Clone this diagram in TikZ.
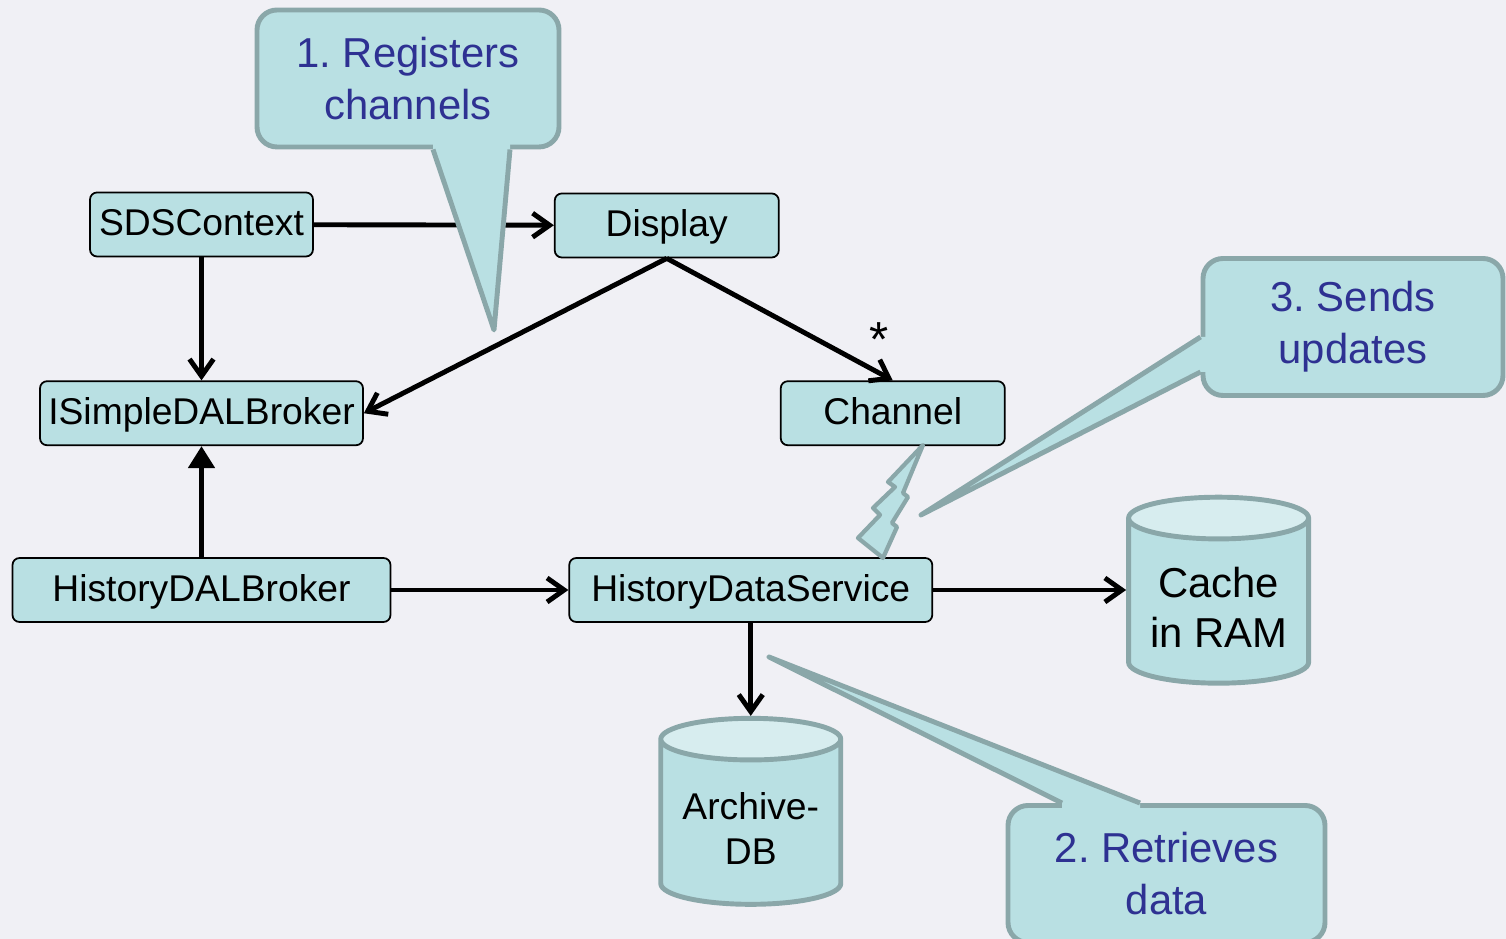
\documentclass[tikz,border=0pt]{standalone}
\usepackage{fontspec}
\setmainfont{Liberation Sans}
\usepackage{tikz}
\usetikzlibrary{shapes.geometric, arrows.meta, positioning, calc}
\definecolor{diag-bg}{HTML}{F0F0F5}
\definecolor{diag-box}{HTML}{B9E0E3}
\definecolor{diag-top}{HTML}{D7EDEF}
\definecolor{diag-edge}{HTML}{8AA7A9}
\definecolor{diag-blue}{HTML}{2E3192}
\frenchspacing

\begin{document}
\begin{tikzpicture}[
    box/.style={rectangle, draw=black, line width=0.5pt, fill=diag-box, minimum height=0.64cm, inner xsep=0.08cm, text height=0.72em, text depth=0.08em, rounded corners=2pt, font=\fontsize{10.6}{12.7}\selectfont},
    db/.style={cylinder, shape border rotate=90, aspect=0.26, draw=diag-edge, line width=1.4pt, cylinder uses custom fill, cylinder body fill=diag-box, cylinder end fill=diag-top, minimum width=1.80cm, minimum height=1.86cm, align=center},
    callout/.style={rectangle, draw=diag-edge, line width=1.4pt, fill=diag-box, rounded corners=0.2cm, align=center, text=diag-blue, font=\fontsize{11.9}{14.8}\selectfont},
    pointer/.style={draw=diag-edge, line width=1.4pt, line join=round},
    arrow/.style={-{Straight Barb[length=1.7mm, width=2.4mm]}, line width=1.4pt},
    inherit/.style={-{Triangle[length=2.2mm, width=2.6mm]}, line width=1.4pt}
]
    \useasboundingbox (0,0) rectangle (15.06,9.39);
    \clip (0,0) rectangle (15.06,9.39);
    \fill[diag-bg] (0,0) rectangle (15.06,9.39);

    \node[box, minimum width=2.23cm] (sds) at (2.015,7.145) {SDSContext};
    \node[box, minimum width=2.24cm, right=2.40cm of sds, yshift=-0.01cm] (disp) {Display};
    \node[box, minimum width=3.23cm, below=1.23cm of sds] (isb) {ISimpleDALBroker};
    \node[box, minimum width=2.24cm, right=4.16cm of isb] (chan) {Channel};
    \node[box, minimum width=3.78cm, below=1.11cm of isb] (hdb) {HistoryDALBroker};
    \node[box, minimum width=3.63cm, right=1.77cm of hdb] (hds) {HistoryDataService};
    \node[db, right=1.93cm of hds, yshift=-0.17cm, font=\fontsize{11.9}{14.2}\selectfont] (cache) {Cache\\in RAM};
    \node[db, below=0.93cm of hds, font=\fontsize{10.6}{12.8}\selectfont] (arch) {Archive-\\DB};

    \draw[arrow] (sds) -- (disp);
    \draw[arrow] (sds) -- (isb);
    \draw[arrow] (disp.south) -- (isb.east);
    \draw[arrow] (disp.south) -- (chan.north) node[pos=0.94, above=0.02cm, font=\fontsize{14}{16}\selectfont] (many) {*};
    \draw[inherit] (hdb) -- (isb);
    \draw[arrow] (hdb) -- (hds);
    \draw[arrow] (hds) -- (cache.west |- hds);
    \draw[arrow] (hds) -- (arch);

    % lightning between channel and service
    \filldraw[pointer, fill=diag-box, line width=1.2pt] (9.23,4.94) -- (8.88,4.57) -- (8.95,4.52) -- (8.73,4.31) -- (8.80,4.24) -- (8.58,4.01) -- (8.83,3.81) -- (8.97,4.12) -- (8.92,4.16) -- (9.08,4.42) -- (9.03,4.46) -- cycle;

    % callouts
    \node[callout, minimum width=3.02cm, minimum height=1.37cm] (reg) at (4.08,8.605) {1. Registers\\channels};
    \coordinate (regtip) at (4.94,6.09);
    \fill[diag-box] ($(reg.south)+(0.25,0.06)$) -- ($(reg.south)+(0.25,0)$) -- (regtip) -- ($(reg.south)+(1.02,0)$) -- ($(reg.south)+(1.02,0.06)$) -- cycle;
    \draw[pointer] ($(reg.south)+(0.25,0)$) -- (regtip) -- ($(reg.south)+(1.02,0)$);

    \node[callout, minimum width=3.17cm, minimum height=1.37cm] (ret) at (11.665,0.65) {2. Retrieves\\data};
    \coordinate (rettip) at (7.69,2.82);
    \fill[diag-box] ($(ret.north)+(-1.045,-0.06)$) -- ($(ret.north)+(-1.045,0)$) -- (rettip) -- ($(ret.north)+(-0.265,0)$) -- ($(ret.north)+(-0.265,-0.06)$) -- cycle;
    \draw[pointer] ($(ret.north)+(-1.045,0)$) -- (rettip) -- ($(ret.north)+(-0.265,0)$);

    \node[callout, minimum width=3.00cm, minimum height=1.37cm] (snd) at (13.53,6.12) {3. Sends\\updates};
    \coordinate (sndtip) at (9.21,4.24);
    \fill[diag-box] ($(snd.west)+(0.06,-0.10)$) -- ($(snd.west)+(0,-0.10)$) -- (sndtip) -- ($(snd.west)+(0,-0.45)$) -- ($(snd.west)+(0.06,-0.45)$) -- cycle;
    \draw[pointer] ($(snd.west)+(0,-0.10)$) -- (sndtip) -- ($(snd.west)+(0,-0.45)$);
\end{tikzpicture}
\end{document}
